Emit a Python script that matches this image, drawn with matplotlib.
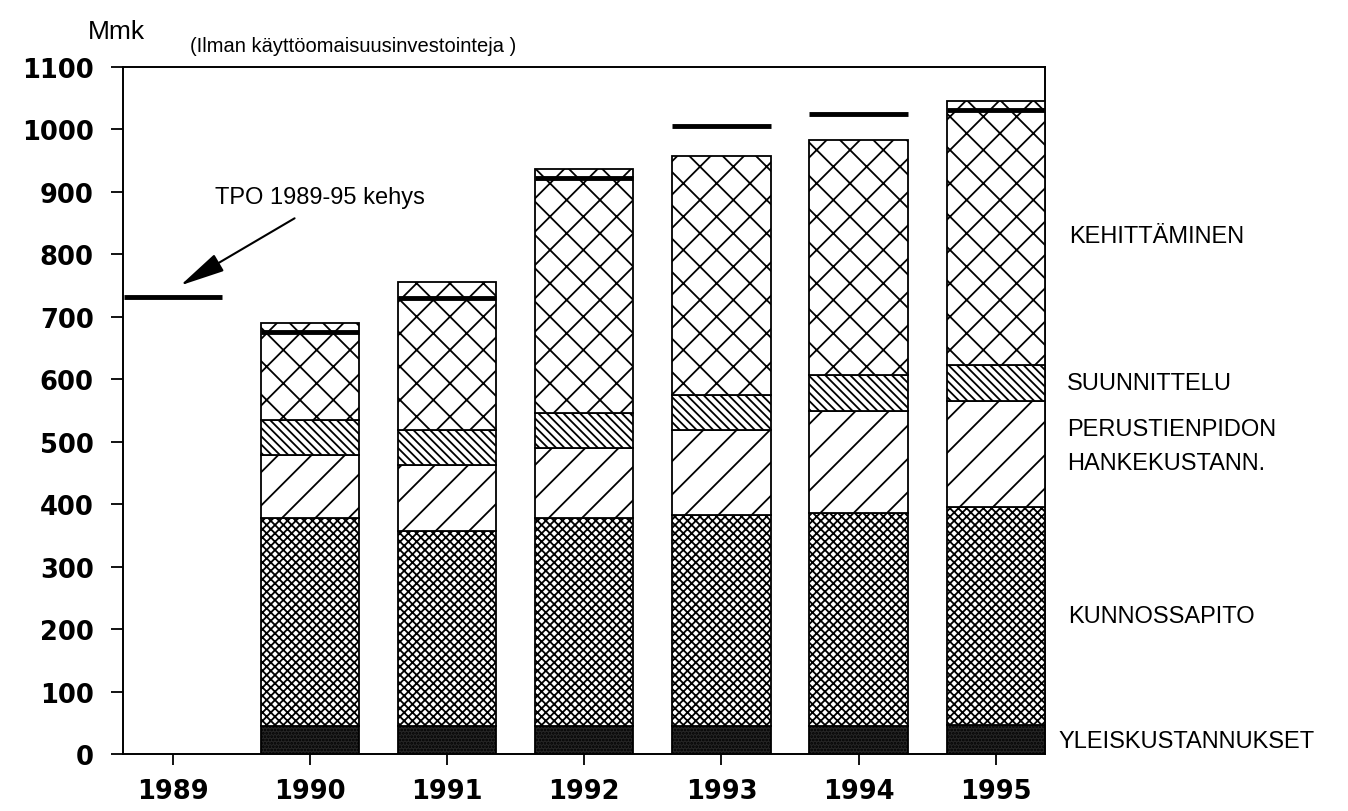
import matplotlib
matplotlib.use("Agg")
import matplotlib.pyplot as plt

# Tienpidon menot, Mmk (ilman käyttöomaisuusinvestointeja)
YEARS = ["1989", "1990", "1991", "1992", "1993", "1994", "1995"]
BAR_YEARS = YEARS[1:]

YLEISKUSTANNUKSET = [45, 45, 45, 45, 45, 47]
KUNNOSSAPITO = [333, 312, 333, 338, 341, 349]
HANKEKUSTANN = [101, 106, 112, 136, 164, 169]
SUUNNITTELU = [56, 55, 56, 56, 57, 58]
KEHITTAMINEN = [155, 238, 391, 383, 376, 423]

# TPO 1989-95 kehys
KEHYS = [732, 676, 730, 922, 1005, 1025, 1031]

SEGMENT_LABELS = ["YLEISKUSTANNUKSET", "KUNNOSSAPITO", "PERUSTIENPIDON\nHANKEKUSTANN.",
                  "SUUNNITTELU", "KEHITTÄMINEN"]

plt.rcParams["font.family"] = ["Liberation Sans", "DejaVu Sans"]
plt.rcParams["hatch.linewidth"] = 1.3
plt.rcParams["axes.linewidth"] = 1.4

W, H = 1348, 812
fig = plt.figure(figsize=(W / 100, H / 100), dpi=100)
ax = fig.add_axes([123 / W, 57 / H, (1045 - 123) / W, (755 - 68) / H])

BAR_W = 0.716
xs = list(range(1, len(YEARS)))

series = [
    (YLEISKUSTANNUKSET, "#262626", "....."),
    (KUNNOSSAPITO, "white", "xxxx"),
    (HANKEKUSTANN, "white", "/"),
    (SUUNNITTELU, "white", "\\\\\\\\"),
    (KEHITTAMINEN, "white", "x"),
]

bottom = [0] * len(xs)
for vals, fc, hatch in series:
    ax.bar(xs, vals, width=BAR_W, bottom=bottom, color=fc, edgecolor="black",
           linewidth=1.3, hatch=hatch, zorder=3)
    bottom = [b + v for b, v in zip(bottom, vals)]

# kehys-viivat
kx = list(range(len(YEARS)))
ax.hlines(KEHYS, [x - BAR_W / 2 for x in kx], [x + BAR_W / 2 for x in kx],
          colors="black", linewidth=3.5, zorder=5)

ax.set_xlim(-0.365, 6.36)
ax.set_ylim(0, 1100)
ax.set_yticks(range(0, 1101, 100))
ax.set_xticks(kx, YEARS)
ax.tick_params(axis="y", direction="out", length=9, width=1.3, pad=12)
ax.tick_params(axis="x", direction="out", length=8, width=1.3, pad=9)
for lab in ax.get_xticklabels() + ax.get_yticklabels():
    lab.set_fontfamily("DejaVu Sans")
    lab.set_fontweight("bold")
    lab.set_fontsize(18.5)

# oikean reunan selitteet
label_y = [21, 221, 493, 594, 830]
label_x = [6.455, 6.53, 6.52, 6.52, 6.535]
for txt, x, y in zip(SEGMENT_LABELS, label_x, label_y):
    ax.text(x, y, txt, fontsize=17, ha="left", va="center", linespacing=1.7,
            clip_on=False)

ax.text(1.07, 892, "TPO 1989-95 kehys", fontsize=17, ha="center", va="center")
ax.annotate("", xy=(0.036, 748), xytext=(0.904, 860),
            arrowprops=dict(arrowstyle="-|>,head_length=1.4,head_width=0.3",
                            color="black", lw=1.5, mutation_scale=20))

fig.text(88 / W, 1 - 32 / H, "Mmk", fontsize=19, ha="left", va="center")
fig.text(190 / W, 1 - 47 / H, "(Ilman käyttöomaisuusinvestointeja )", fontsize=14.5,
         ha="left", va="center")

fig.savefig("out.png", dpi=100)
